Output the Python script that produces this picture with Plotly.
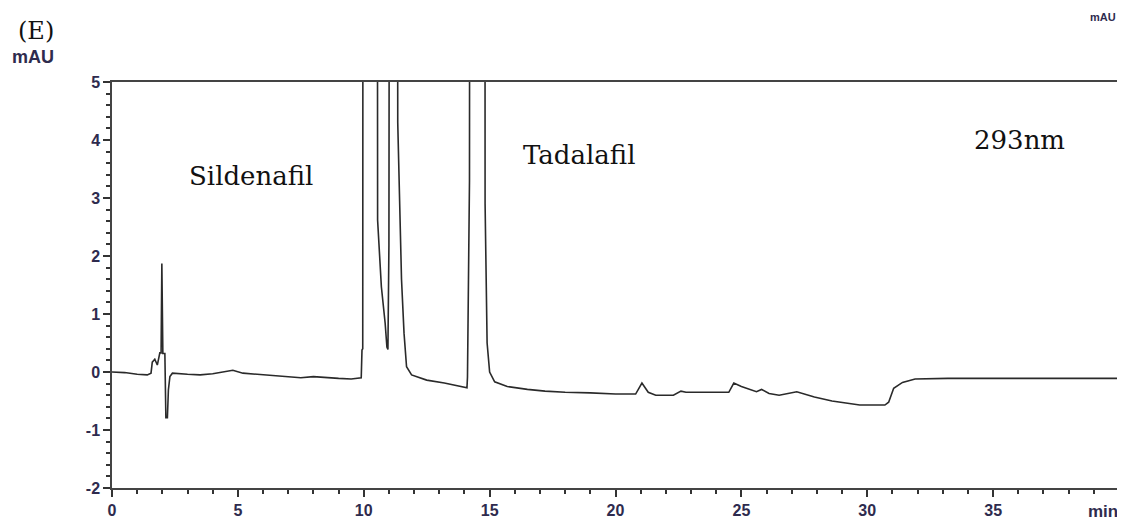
import plotly.graph_objects as go

# Retention time (min) and absorbance (mAU)
time_min = [
    0.0, 0.5, 1.0, 1.4, 1.55, 1.6, 1.7, 1.8, 1.9, 1.95, 1.98, 2.0, 2.02, 2.1,
    2.14, 2.2, 2.24, 2.3, 2.4, 3.0, 3.5, 4.0, 4.5, 4.8, 5.2, 6.0, 6.5, 7.0,
    7.5, 8.0, 8.5, 9.0, 9.5, 9.9, 9.93, 9.96, 10.0, 10.5, 10.55, 10.7, 10.85,
    10.92, 10.96, 11.0, 11.07, 11.3, 11.35, 11.4, 11.45, 11.5, 11.6, 11.7,
    11.9, 12.5, 13.2, 14.0, 14.1, 14.12, 14.2, 14.27, 14.78, 14.82, 14.9,
    15.0, 15.2, 15.7, 16.5, 17.2, 18.0, 19.0, 20.0, 20.8, 21.05, 21.3, 21.6,
    22.3, 22.6, 22.8, 23.5, 24.5, 24.7, 25.0, 25.6, 25.8, 26.1, 26.5, 27.2,
    27.9, 28.6, 29.7, 30.7, 30.85, 31.05, 31.4, 31.9, 33.2, 35.0, 37.0, 40.0,
]
absorbance = [
    0.0, -0.01, -0.04, -0.05, -0.02, 0.17, 0.22, 0.12, 0.33, 0.33, 1.87, 1.3, 0.32, 0.32,
    -0.79, -0.79, -0.31, -0.08, -0.02, -0.04, -0.05, -0.03, 0.0, 0.03, -0.02, -0.05, -0.06, -0.08,
    -0.1, -0.08, -0.1, -0.11, -0.12, -0.1, 0.38, 0.4, 40.0, 40.0, 2.62, 1.47, 0.84,
    0.43, 0.39, 2.2, 30.0, 30.0, 4.3, 3.3, 2.5, 1.6, 0.67, 0.09,
    -0.05, -0.14, -0.19, -0.25, -0.27, -0.09, 3.3, 50.0, 50.0, 2.9, 0.5,
    0.0, -0.17, -0.25, -0.3, -0.33, -0.35, -0.36, -0.38, -0.38, -0.19, -0.35, -0.4,
    -0.4, -0.33, -0.35, -0.35, -0.35, -0.19, -0.25, -0.34, -0.3, -0.37, -0.4, -0.34,
    -0.43, -0.5, -0.57, -0.57, -0.52, -0.28, -0.18, -0.12, -0.11, -0.11, -0.11, -0.11,
]

peak_labels = ["Sildenafil", "Tadalafil", "293nm"]
peak_label_x = [5.51, 18.56, 36.04]
peak_label_y = [3.38, 3.74, 4.0]

x_range = [0, 40]
y_range = [-2, 5]
y_tick_vals = [-2, -1, 0, 1, 2, 3, 4, 5]
y_tick_text = ["-2", "-1", "0", "1", "2", "3", "4", "5"]

fig = go.Figure()
fig.add_trace(go.Scatter(
    x=time_min, y=absorbance, mode="lines",
    line=dict(color="#2a2a2a", width=1.6),
    hoverinfo="skip", showlegend=False,
))

tick_font = dict(family="Liberation Sans", size=16, color="#2e2b4e", weight="bold")

fig.update_xaxes(
    range=x_range, dtick=5, tick0=0, showgrid=False, zeroline=False,
    showline=True, linecolor="#444444", linewidth=1.5, mirror=True,
    ticks="outside", ticklen=7, tickwidth=1.5, tickcolor="#333333",
    tickfont=tick_font,
    minor=dict(dtick=1, ticks="outside", ticklen=4, tickwidth=1.5, tickcolor="#333333", showgrid=False),
)
fig.update_yaxes(
    range=y_range, tickmode="array", tickvals=y_tick_vals, ticktext=y_tick_text,
    showgrid=False, zeroline=False,
    showline=True, linecolor="#444444", linewidth=1.5, mirror=True,
    ticks="outside", ticklen=7, tickwidth=1.5, tickcolor="#333333",
    tickfont=tick_font,
    minor=dict(dtick=0.2, tick0=0, ticks="outside", ticklen=4, tickwidth=1.5, tickcolor="#333333", showgrid=False),
)

for lab, lx, ly in zip(peak_labels, peak_label_x, peak_label_y):
    fig.add_annotation(x=lx, y=ly, xref="x", yref="y", text=lab, showarrow=False,
                       font=dict(family="DejaVu Serif", size=26, color="#111111"))

unit_font = dict(family="Liberation Sans", size=18, color="#2e2b4e", weight="bold")
common = dict(xref="paper", yref="paper", showarrow=False, xanchor="center", yanchor="middle")
fig.add_annotation(x=-0.0753, y=1.1256, text="(E)",
                   font=dict(family="DejaVu Serif", size=24, color="#111111"), **common)
fig.add_annotation(x=-0.0783, y=1.0616, text="mAU", font=unit_font, **common)
fig.add_annotation(x=0.984, y=-0.059, text="min",
                   font=dict(family="Liberation Sans", size=17, color="#2e2b4e", weight="bold"), **common)
fig.add_annotation(x=0.984, y=1.16, text="mAU",
                   font=dict(family="Liberation Sans", size=11, color="#2e2b4e", weight="bold"), **common)

fig.update_layout(
    width=1117, height=518,
    margin=dict(l=104, r=4, t=74, b=38),
    paper_bgcolor="white", plot_bgcolor="white",
)

fig.write_html("out.html")
